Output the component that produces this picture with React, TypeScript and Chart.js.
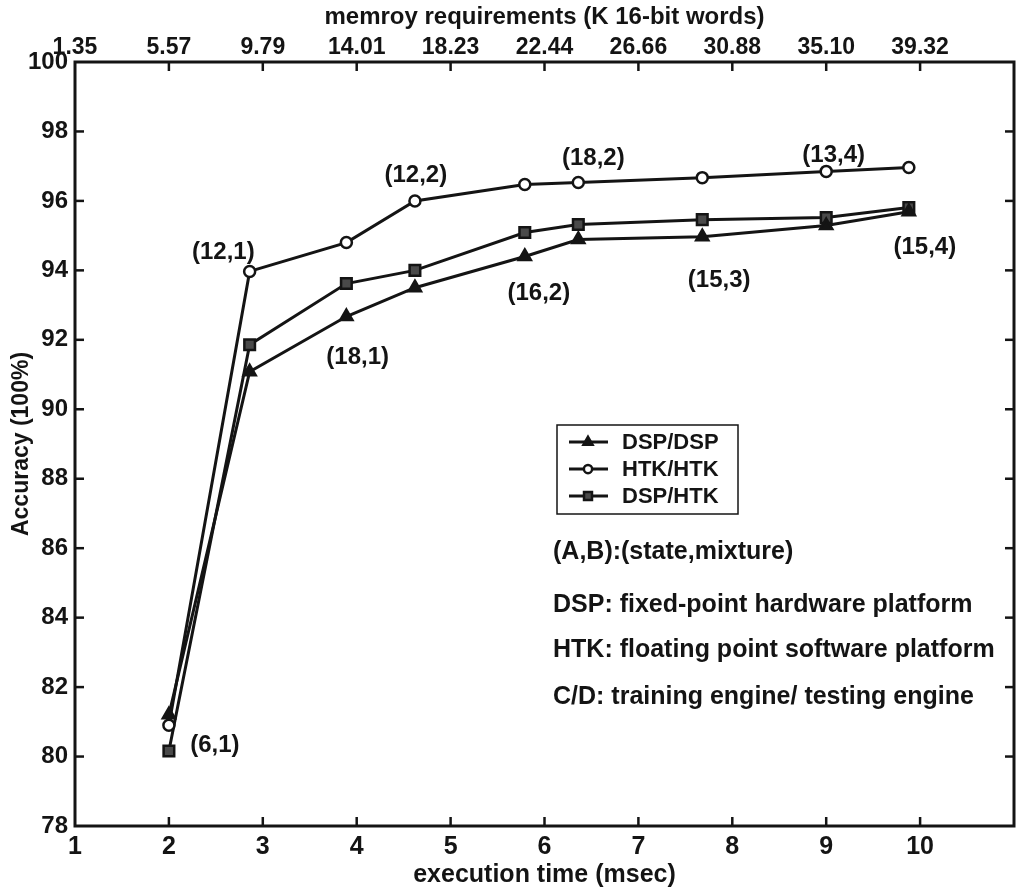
import React, { useEffect, useRef } from 'react';
import { Chart, registerables } from 'chart.js';

Chart.register(...registerables);

// execution time (msec) of each configuration
const execTime = [2.0, 2.86, 3.89, 4.62, 5.79, 6.36, 7.68, 9.0, 9.88];
// accuracy (%) per engine pairing
const dspDsp = [81.2, 91.08, 92.67, 93.5, 94.4, 94.89, 94.97, 95.29, 95.69];
const htkHtk = [80.9, 93.97, 94.8, 96.0, 96.47, 96.53, 96.67, 96.85, 96.96];
const dspHtk = [80.16, 91.86, 93.62, 94.0, 95.09, 95.32, 95.46, 95.52, 95.81];

const seriesNames = ['DSP/DSP', 'HTK/HTK', 'DSP/HTK'];
const bottomTickLabels = ['1', '2', '3', '4', '5', '6', '7', '8', '9', '10'];
const memoryLabels = ['1.35', '5.57', '9.79', '14.01', '18.23', '22.44', '26.66', '30.88', '35.10', '39.32'];

// (state, mixture) annotations, anchored in data coordinates
const noteText = ['(6,1)', '(12,1)', '(18,1)', '(12,2)', '(18,2)', '(16,2)', '(15,3)', '(13,4)', '(15,4)'];
const noteX = [2.49, 2.58, 4.01, 4.63, 6.52, 5.94, 7.86, 9.08, 10.05];
const noteY = [80.33, 94.53, 91.5, 96.74, 97.23, 93.35, 93.72, 97.32, 94.67];

const remarks = [
  '(A,B):(state,mixture)',
  'DSP: fixed-point hardware platform',
  'HTK: floating point software platform',
  'C/D: training engine/ testing engine',
];

const FONT = '"Liberation Sans", Arial, Helvetica, sans-serif';
const INK = '#141414';

const pointStyles = ['triangle', 'circle', 'rect'];
const pointRadii = [7, 5.5, 7.5];
const pointFills = [INK, '#ffffff', '#4a4a4a'];

function drawMarker(ctx: CanvasRenderingContext2D, style: string, cx: number, cy: number, r: number, fill: string) {
  ctx.beginPath();
  if (style === 'triangle') {
    ctx.moveTo(cx, cy - r);
    ctx.lineTo(cx + r * 0.866, cy + r * 0.5);
    ctx.lineTo(cx - r * 0.866, cy + r * 0.5);
    ctx.closePath();
  } else if (style === 'circle') {
    ctx.arc(cx, cy, r, 0, Math.PI * 2);
  } else {
    const s = r * Math.SQRT1_2;
    ctx.rect(cx - s, cy - s, 2 * s, 2 * s);
  }
  ctx.fillStyle = fill;
  ctx.fill();
  ctx.stroke();
}

const overlayPlugin = {
  id: 'overlay',
  afterDatasetsDraw(chart: any) {
    const { ctx, chartArea: a, scales } = chart;
    const xs = scales.x;
    const ys = scales.y;
    ctx.save();
    ctx.strokeStyle = INK;
    ctx.fillStyle = INK;

    // frame
    ctx.lineWidth = 3;
    ctx.strokeRect(a.left, a.top, a.right - a.left, a.bottom - a.top);

    // inward tick marks
    ctx.lineWidth = 2.5;
    const seg = (x1: number, y1: number, x2: number, y2: number) => {
      ctx.beginPath();
      ctx.moveTo(x1, y1);
      ctx.lineTo(x2, y2);
      ctx.stroke();
    };
    xs.ticks.forEach((t: any) => {
      if (t.value <= xs.min || t.value >= xs.max) return;
      const px = xs.getPixelForValue(t.value);
      seg(px, a.bottom, px, a.bottom - 9);
      seg(px, a.top, px, a.top + 9);
    });
    ys.ticks.forEach((t: any) => {
      if (t.value <= ys.min || t.value >= ys.max) return;
      const py = ys.getPixelForValue(t.value);
      seg(a.left, py, a.left + 9, py);
      seg(a.right, py, a.right - 9, py);
    });

    // point annotations
    ctx.font = `bold 24px ${FONT}`;
    ctx.textAlign = 'center';
    ctx.textBaseline = 'middle';
    noteText.forEach((t, i) => {
      ctx.fillText(t, xs.getPixelForValue(noteX[i]), ys.getPixelForValue(noteY[i]));
    });

    // legend box
    const bx = a.left + 482;
    const by = a.top + 363;
    const bw = 181;
    const bh = 89;
    ctx.lineWidth = 1.5;
    ctx.fillStyle = '#ffffff';
    ctx.fillRect(bx, by, bw, bh);
    ctx.strokeRect(bx, by, bw, bh);
    ctx.font = `bold 22px ${FONT}`;
    ctx.textAlign = 'left';
    seriesNames.forEach((name, i) => {
      const cy = by + 17 + i * 27;
      ctx.lineWidth = 3;
      seg(bx + 12, cy, bx + 51, cy);
      ctx.lineWidth = 2.5;
      drawMarker(ctx, pointStyles[i], bx + 31, cy, pointRadii[i] * 0.75, pointFills[i]);
      ctx.fillStyle = INK;
      ctx.fillText(name, bx + 65, cy + 1);
    });

    // remarks
    ctx.font = `bold 25px ${FONT}`;
    const rY = [a.top + 490, a.top + 543, a.top + 588, a.top + 635];
    remarks.forEach((r, i) => ctx.fillText(r, a.left + 478, rY[i]));

    ctx.restore();
  },
};

export default function App() {
  const canvasRef = useRef<HTMLCanvasElement | null>(null);

  useEffect(() => {
    if (!canvasRef.current) return;
    const mk = (values: number[]) => execTime.map((x, i) => ({ x, y: values[i] }));
    const series = [dspDsp, htkHtk, dspHtk];
    const chart = new Chart(canvasRef.current, {
      type: 'line',
      data: {
        datasets: series.map((vals, i) => ({
          label: seriesNames[i],
          data: mk(vals),
          borderColor: INK,
          borderWidth: 3,
          tension: 0,
          pointStyle: pointStyles[i] as any,
          pointRadius: pointRadii[i],
          pointBorderWidth: 2.5,
          pointBorderColor: INK,
          pointBackgroundColor: pointFills[i],
          fill: false,
        })),
      },
      options: {
        responsive: false,
        animation: false,
        devicePixelRatio: 1,
        layout: { padding: { left: 0, right: 9, top: 0, bottom: 0 } },
        plugins: { legend: { display: false }, tooltip: { enabled: false } },
        scales: {
          x: {
            type: 'linear',
            position: 'bottom',
            min: 1,
            max: 11,
            afterFit: (s: any) => { s.height = 68; },
            grid: { display: false, drawTicks: false },
            border: { display: false },
            ticks: {
              stepSize: 1,
              padding: 6,
              maxRotation: 0,
              color: INK,
              font: { family: FONT, size: 25, weight: 'bold' },
              callback: (v: any) => bottomTickLabels[Math.round(v) - 1] ?? '',
            },
            title: {
              display: true,
              text: 'execution time (msec)',
              color: INK,
              font: { family: FONT, size: 25, weight: 'bold' },
              padding: { top: 0, bottom: 4 },
            },
          },
          x2: {
            type: 'linear',
            position: 'top',
            min: 1,
            max: 11,
            afterFit: (s: any) => { s.height = 62; },
            grid: { display: false, drawTicks: false },
            border: { display: false },
            ticks: {
              stepSize: 1,
              padding: 1,
              maxRotation: 0,
              color: INK,
              font: { family: FONT, size: 23, weight: 'bold' },
              callback: (v: any) => memoryLabels[Math.round(v) - 1] ?? '',
            },
            title: {
              display: true,
              text: 'memroy requirements (K 16-bit words)',
              color: INK,
              font: { family: FONT, size: 24, weight: 'bold' },
              padding: { top: 3, bottom: 0 },
            },
          },
          y: {
            type: 'linear',
            position: 'left',
            min: 78,
            max: 100,
            afterFit: (s: any) => { s.width = 75; },
            grid: { display: false, drawTicks: false },
            border: { display: false },
            ticks: {
              stepSize: 2,
              padding: 7,
              color: INK,
              font: { family: FONT, size: 24, weight: 'bold' },
            },
            title: {
              display: true,
              text: 'Accuracy (100%)',
              color: INK,
              font: { family: FONT, size: 23, weight: 'bold' },
              padding: { top: 8, bottom: 0 },
            },
          },
        },
      },
      plugins: [overlayPlugin],
    });
    return () => chart.destroy();
  }, []);

  return (
    <div style={{ position: 'absolute', left: 0, top: 0, width: 1024, height: 894, background: '#fff' }}>
      <canvas ref={canvasRef} width={1024} height={894} style={{ display: 'block', width: 1024, height: 894 }} />
    </div>
  );
}
